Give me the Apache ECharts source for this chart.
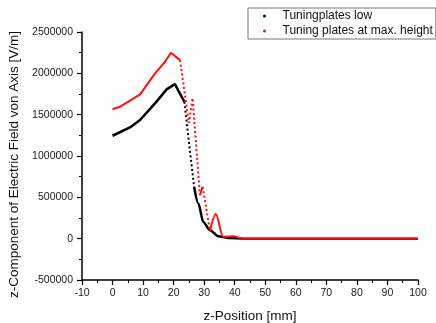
<!DOCTYPE html>
<html>
<head>
<meta charset="utf-8">
<script src="https://cdn.jsdelivr.net/npm/echarts@6/dist/echarts.min.js"></script>
<style>
  html, body { margin: 0; padding: 0; background: #fff; }
  #chart { width: 436px; height: 323px; }
</style>
</head>
<body>
<div id="chart"></div>
<script>
// z-position [mm] and field value [V/m]
var lowPos = [0, 5.7, 9, 13.9, 17.7, 20.4, 23.5, 26.7, 28.1, 29.7, 31.9, 34.6, 38, 43, 100];
var lowVal = [1245000, 1345000, 1435000, 1637000, 1806000, 1870000, 1656000, 627000, 425000, 203000, 103000, 30000, 8000, 0, 0];
var lowDotted = [6]; // segment starting at this index is drawn as dots

var highPos = [0, 2.4, 9, 13.9, 17.2, 19.1, 22.1, 25.0, 26.2, 28.6, 29.5, 31.9, 33.8, 36.2, 39.5, 42.5, 100];
var highVal = [1565000, 1595000, 1745000, 2000000, 2140000, 2250000, 2160000, 1400000, 1700000, 527000, 627000, 94000, 297000, 22000, 30000, 0, 0];
var highDotted = [6, 7, 8, 10];

var legendNames = ['Tuningplates low', 'Tuning plates at max. height'];

function buildSegments(name, pos, val, dottedFrom, color, width) {
  var segs = [], cur = null;
  for (var i = 0; i < pos.length - 1; i++) {
    var dotted = dottedFrom.indexOf(i) >= 0;
    if (!cur || cur.dotted !== dotted) {
      cur = { dotted: dotted, data: [[pos[i], val[i]]] };
      segs.push(cur);
    }
    cur.data.push([pos[i + 1], val[i + 1]]);
  }
  return segs.map(function (s, k) {
    var last = k === segs.length - 1;
    return {
      name: name,
      type: 'line',
      data: s.data,
      showSymbol: false,
      symbol: 'circle',
      smooth: last ? 0.3 : false,
      smoothMonotone: 'x',
      itemStyle: { color: color },
      lineStyle: {
        color: color,
        width: s.dotted ? 2 : width,
        type: s.dotted ? [2, 2.5] : 'solid',
        cap: 'butt'
      },
      silent: true
    };
  });
}

var myChart = echarts.init(document.getElementById('chart'));
var axisFont = { fontFamily: 'Liberation Sans', fontSize: 10.5, color: '#1a1a1a' };

var option = {
  animation: false,
  backgroundColor: '#fff',
  grid: { left: 82, right: 18, top: 32, bottom: 43, containLabel: false, outerBoundsMode: 'none' },
  legend: {
    data: legendNames,
    orient: 'vertical',
    left: 248,
    top: 8,
    padding: [2, 3, 2, 15],
    itemGap: 3,
    itemWidth: 26,
    itemHeight: 3,
    icon: 'circle',
    borderColor: '#777',
    borderWidth: 1,
    textStyle: { fontFamily: 'Liberation Sans', fontSize: 12, color: '#111' }
  },
  xAxis: {
    type: 'value',
    min: -10,
    max: 100,
    interval: 10,
    name: 'z-Position [mm]',
    nameLocation: 'middle',
    nameGap: 29,
    nameTextStyle: { fontFamily: 'Liberation Sans', fontSize: 13.5, color: '#111' },
    axisLine: { show: true, onZero: false, lineStyle: { color: '#000', width: 1.5 } },
    axisTick: { show: true, length: 5, lineStyle: { color: '#000', width: 1.2 } },
    minorTick: { show: true, splitNumber: 2, length: 3, lineStyle: { color: '#000', width: 1 } },
    splitLine: { show: false },
    axisLabel: Object.assign({ margin: 8 }, axisFont)
  },
  yAxis: {
    type: 'value',
    min: -500000,
    max: 2500000,
    interval: 500000,
    name: 'z-Component of Electric Field von Axis [V/m]',
    nameLocation: 'middle',
    nameGap: 60,
    nameTextStyle: { fontFamily: 'Liberation Sans', fontSize: 13.5, color: '#111', padding: [0, 17, 0, 0] },
    axisLine: { show: true, onZero: false, lineStyle: { color: '#000', width: 1.5 } },
    axisTick: { show: true, length: 5, lineStyle: { color: '#000', width: 1.2 } },
    minorTick: { show: true, splitNumber: 2, length: 3, lineStyle: { color: '#000', width: 1 } },
    splitLine: { show: false },
    axisLabel: Object.assign({
      margin: 9,
      formatter: function (v) { return String(v); }
    }, axisFont)
  },
  series: buildSegments(legendNames[0], lowPos, lowVal, lowDotted, '#000000', 2.5)
    .concat(buildSegments(legendNames[1], highPos, highVal, highDotted, '#ff1010', 2))
};

myChart.setOption(option);
window.addEventListener('resize', function () {
  myChart.resize();
});
</script>
</body>
</html>
